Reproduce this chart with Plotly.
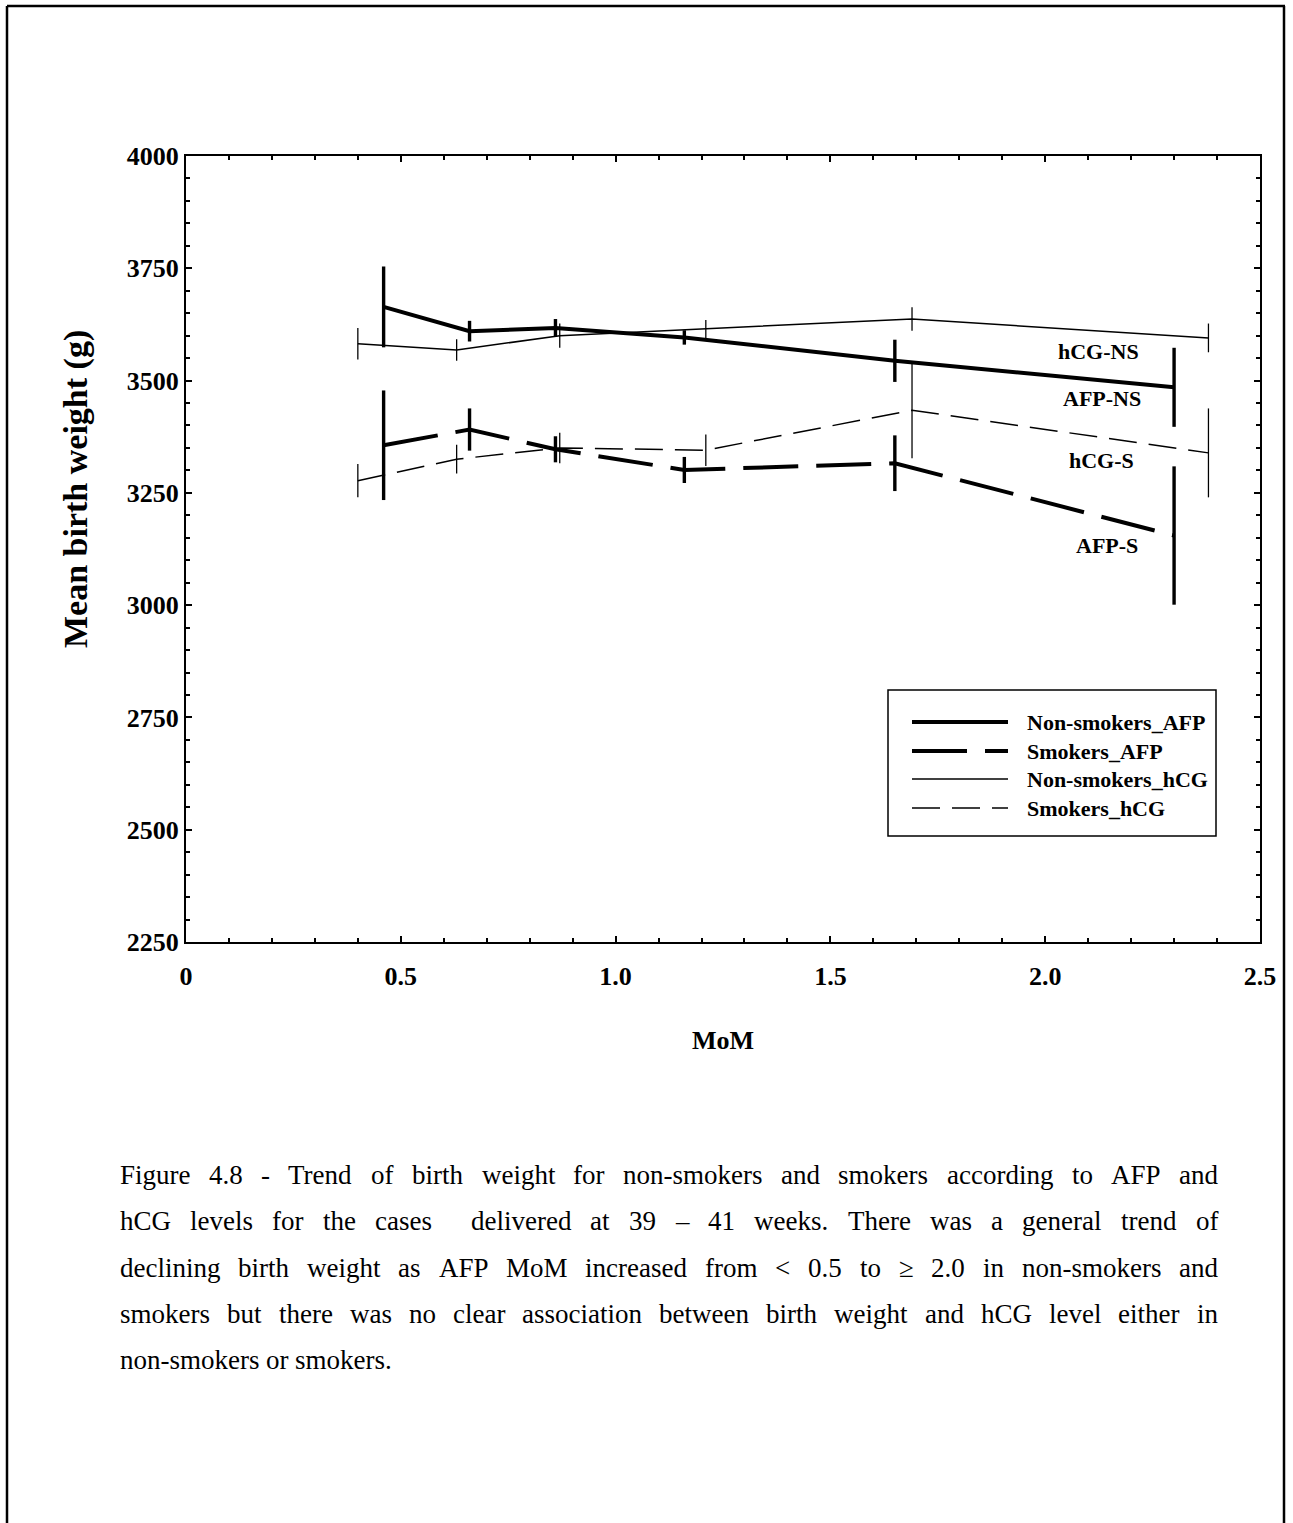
import plotly.graph_objects as go

# ---------------- data ----------------
mom_afp = [0.46, 0.66, 0.86, 1.16, 1.65, 2.30]
mom_hcg = [0.40, 0.63, 0.87, 1.21, 1.69, 2.38]
ns_afp = [3664, 3610, 3617, 3596, 3544, 3485]
ns_afp_err = [90, 23, 20, 16, 47, 88]
s_afp = [3356, 3391, 3347, 3301, 3316, 3155]
s_afp_err = [122, 47, 29, 29, 62, 154]
ns_hcg = [3582, 3568, 3600, 3615, 3637, 3595]
ns_hcg_err = [35, 24, 27, 20, 26, 32]
s_hcg = [3277, 3325, 3350, 3345, 3434, 3339]
s_hcg_err = [37, 32, 34, 35, 107, 99]
series_names = ["Non-smokers_AFP", "Smokers_AFP", "Non-smokers_hCG", "Smokers_hCG"]

x_tickvals = [0, 0.5, 1.0, 1.5, 2.0, 2.5]
x_ticktext = ["0", "0.5", "1.0", "1.5", "2.0", "2.5"]
y_tickvals = [2250, 2500, 2750, 3000, 3250, 3500, 3750, 4000]

label_text = ["hCG-NS", "AFP-NS", "hCG-S", "AFP-S"]
label_x = [2.125, 2.132, 2.130, 2.144]
label_y = [3564, 3459, 3323, 3132]

caption_lines = [
    "Figure 4.8 - Trend of birth weight for non-smokers and smokers according to AFP and",
    "hCG levels for the cases  delivered at 39 \u2013 41 weeks. There was a general trend of",
    "declining birth weight as AFP MoM increased from < 0.5 to \u2265 2.0 in non-smokers and",
    "smokers but there was no clear association between birth weight and hCG level either in",
    "non-smokers or smokers.",
]

# ---------------- layout geometry (pixels) ----------------
W, H = 1293, 1523
PL, PR, PT, PB = 186, 1260, 156, 942
PW, PH = PR - PL, PB - PT


def px(xp):
    return (xp - PL) / PW


def py(yp):
    return (PB - yp) / PH


BOLD = "Liberation Serif"
styles = [
    dict(width=4, dash="solid"),
    dict(width=4, dash="55px,18px"),
    dict(width=1.5, dash="solid"),
    dict(width=1.5, dash="28px,12px"),
]
xs = [mom_afp, mom_afp, mom_hcg, mom_hcg]
ys = [ns_afp, s_afp, ns_hcg, s_hcg]
errs = [ns_afp_err, s_afp_err, ns_hcg_err, s_hcg_err]

fig = go.Figure()
for name, x, y, e, st in zip(series_names, xs, ys, errs, styles):
    fig.add_trace(go.Scatter(
        x=x, y=y, name=name, mode="lines",
        line=dict(color="black", width=st["width"], dash=st["dash"]),
        error_y=dict(type="data", array=e, visible=True, width=0,
                     thickness=st["width"] * 0.85, color="black"),
        showlegend=False,
    ))

annotations = []
for t, x, y in zip(label_text, label_x, label_y):
    annotations.append(dict(x=x, y=y, xref="x", yref="y", text=t, showarrow=False,
                            xanchor="center", yanchor="middle",
                            font=dict(family=BOLD, size=22, color="black", weight="bold")))

# axis titles
annotations.append(dict(x=px(723), y=py(1040), xref="paper", yref="paper", text="MoM",
                        xanchor="center", yanchor="middle", showarrow=False,
                        font=dict(family=BOLD, size=26, color="black", weight="bold")))
annotations.append(dict(x=px(76), y=py(489), xref="paper", yref="paper",
                        text="Mean birth weight (g)", textangle=-90, showarrow=False,
                        xanchor="center", yanchor="middle",
                        font=dict(family=BOLD, size=34, color="black", weight="bold")))

shapes = []
# legend (custom, long sample lines)
shapes.append(dict(type="rect", xref="paper", yref="paper", x0=px(888), x1=px(1216),
                   y0=py(690), y1=py(836), line=dict(color="black", width=1.5),
                   fillcolor="white", layer="above"))
leg_y = [722, 751, 779, 808]
for name, st, yy in zip(series_names, styles, leg_y):
    shapes.append(dict(type="line", xref="paper", yref="paper", x0=px(912), x1=px(1008),
                       y0=py(yy), y1=py(yy), layer="above",
                       line=dict(color="black", width=st["width"], dash=st["dash"])))
    annotations.append(dict(x=px(1025), y=py(yy), xref="paper", yref="paper", text=name,
                            xanchor="left", yanchor="middle", showarrow=False,
                            font=dict(family=BOLD, size=22, color="black", weight="bold")))

# page border
shapes.append(dict(type="line", xref="paper", yref="paper", x0=px(7), x1=px(1285),
                   y0=py(6), y1=py(6), line=dict(color="black", width=2.5)))
shapes.append(dict(type="line", xref="paper", yref="paper", x0=px(7), x1=px(7),
                   y0=py(6), y1=py(1530), line=dict(color="black", width=2.5)))
shapes.append(dict(type="line", xref="paper", yref="paper", x0=px(1284), x1=px(1284),
                   y0=py(6), y1=py(1530), line=dict(color="black", width=2.5)))

# caption: justified text, word by word using Times metrics
TW = {' ': 250, 'a': 444, 'b': 500, 'c': 444, 'd': 500, 'e': 444, 'f': 333, 'g': 500, 'h': 500,
      'i': 278, 'j': 278, 'k': 500, 'l': 278, 'm': 778, 'n': 500, 'o': 500, 'p': 500, 'q': 500,
      'r': 333, 's': 389, 't': 278, 'u': 500, 'v': 500, 'w': 722, 'x': 500, 'y': 500, 'z': 444,
      'A': 722, 'B': 667, 'C': 667, 'D': 722, 'E': 611, 'F': 556, 'G': 722, 'H': 722, 'I': 333,
      'J': 389, 'K': 722, 'L': 611, 'M': 889, 'N': 722, 'O': 722, 'P': 556, 'Q': 722, 'R': 667,
      'S': 556, 'T': 611, 'U': 722, 'V': 722, 'W': 944, 'X': 722, 'Y': 722, 'Z': 611,
      '.': 250, ',': 250, '-': 333, '\u2013': 500, '<': 564, '\u2265': 549, '(': 333, ')': 333}
CAP_FS = 27
CAP_L, CAP_R = 120, 1218
cap_y = [1175, 1221, 1268, 1314, 1360]


def wwidth(w):
    return sum(TW.get(c, 500) for c in w) / 1000 * CAP_FS


for i, (line, yy) in enumerate(zip(caption_lines, cap_y)):
    words = line.split(" ")
    last = i == len(caption_lines) - 1
    total = sum(wwidth(w) for w in words)
    gaps = len(words) - 1
    gap = TW[' '] / 1000 * CAP_FS if last or gaps == 0 else (CAP_R - CAP_L - total) / gaps
    xcur = CAP_L
    for w in words:
        if w:
            annotations.append(dict(x=px(xcur - 2), y=py(yy), xref="paper", yref="paper", text=w,
                                    xanchor="left", yanchor="middle", showarrow=False,
                                    font=dict(family="Liberation Serif", size=CAP_FS, color="black")))
        xcur += wwidth(w) + gap

axis_common = dict(showline=True, linecolor="black", linewidth=2, mirror="allticks",
                   ticks="inside", ticklen=6, tickwidth=1.5, tickcolor="black",
                   showgrid=False, zeroline=False,
                   tickfont=dict(family=BOLD, size=26, color="black", weight="bold"))

fig.update_layout(
    width=W, height=H,
    margin=dict(l=PL, r=W - PR, t=PT, b=H - PB, pad=0),
    paper_bgcolor="white", plot_bgcolor="white",
    xaxis=dict(range=[0, 2.5], tickvals=x_tickvals, ticktext=x_ticktext,
               ticklabelstandoff=10,
               minor=dict(ticks="inside", dtick=0.1, tick0=0, ticklen=4, tickwidth=1.5,
                          tickcolor="black", showgrid=False),
               **axis_common),
    yaxis=dict(range=[2250, 4000], tickvals=y_tickvals, ticklabelstandoff=0,
               minor=dict(ticks="inside", dtick=50, tick0=2250, ticklen=4, tickwidth=1.5,
                          tickcolor="black", showgrid=False),
               **axis_common),
    annotations=annotations,
    shapes=shapes,
    showlegend=False,
)

fig.write_html("out.html", config={"displayModeBar": False},
               post_script="document.body.style.margin='0';document.body.style.overflow='hidden';")
